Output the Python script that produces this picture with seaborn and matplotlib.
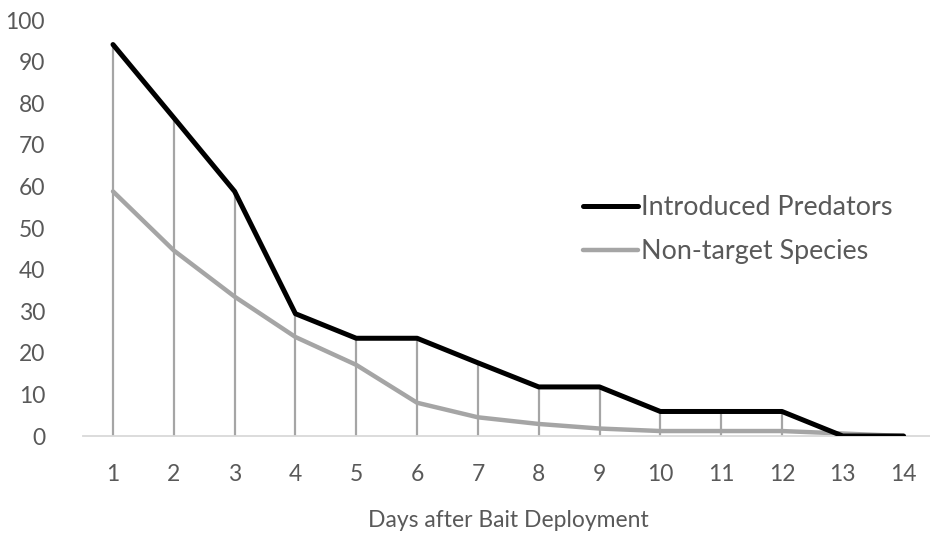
import numpy as np
import pandas as pd
import matplotlib.pyplot as plt
import seaborn as sns

days = list(range(1, 15))
introduced_predators = [94.1, 76.5, 58.8, 29.4, 23.5, 23.5, 17.6, 11.8, 11.8, 5.9, 5.9, 5.9, 0, 0]
non_target_species = [58.8, 44.6, 33.5, 23.8, 17.1, 8.0, 4.5, 2.9, 1.8, 1.2, 1.2, 1.2, 0.6, 0]

df = pd.DataFrame({"day": days,
                   "Introduced Predators": introduced_predators,
                   "Non-target Species": non_target_species})

sns.set_style("white")
plt.rcParams['font.family'] = ['Lato', 'DejaVu Sans']

fig = plt.figure(figsize=(9.3, 5.35), dpi=100)
ax = fig.add_axes([0.0888, 0.185, 0.9155, 0.7776])

# drop lines from the highest series down to the axis
tops = np.maximum(df["Introduced Predators"], df["Non-target Species"])
ax.vlines(df["day"], 0, tops, color="#A5A5A5", linewidth=1.6, zorder=1)

sns.lineplot(data=df, x="day", y="Introduced Predators", color="black",
             linewidth=3.6, label="Introduced Predators", ax=ax, zorder=3)
sns.lineplot(data=df, x="day", y="Non-target Species", color="#A5A5A5",
             linewidth=3.2, label="Non-target Species", ax=ax, zorder=2)

ax.set_xlim(0.5, 14.5)
ax.set_ylim(0, 100)
ax.set_xticks(days)
ax.set_yticks(range(0, 101, 10))
ax.tick_params(axis="both", length=0, labelsize=16.5, labelcolor="#595959")
ax.tick_params(axis="x", pad=20)
ax.tick_params(axis="y", pad=27)
ax.set_xlabel("Days after Bait Deployment", fontsize=16.5, color="#595959", labelpad=18)
ax.set_ylabel("")

for side in ["top", "right", "left"]:
    ax.spines[side].set_visible(False)
ax.spines["bottom"].set_color("#D9D9D9")
ax.spines["bottom"].set_linewidth(1.3)

leg = ax.legend(loc="upper left", bbox_to_anchor=(583 / 930, 1 - 195 / 535),
                bbox_transform=fig.transFigure, frameon=False, fontsize=19.4,
                borderpad=0, borderaxespad=0,
                handlelength=2.05, handletextpad=0.1, labelspacing=0.72)
for t in leg.get_texts():
    t.set_color("#595959")

fig.savefig("out.png", dpi=100)
